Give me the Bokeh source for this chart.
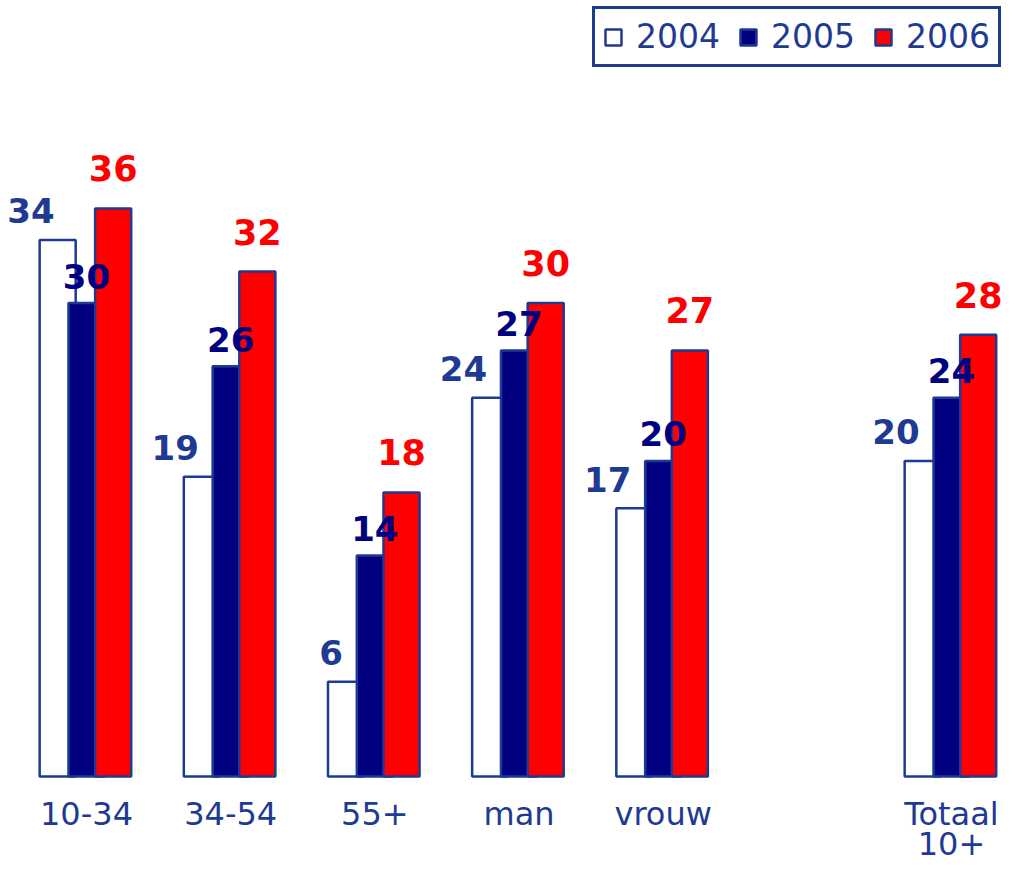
from bokeh.plotting import figure
from bokeh.models import ColumnDataSource, Legend, LegendItem, Range1d
from bokeh.core.properties import value
from bokeh.embed import file_html
from bokeh.resources import INLINE

# ---- data ----
categories = ["10-34", "34-54", "55+", "man", "vrouw", "Totaal\n10+"]
years = ["2004", "2005", "2006"]
v2004 = [34, 19, 6, 24, 17, 20]
v2005 = [30, 26, 14, 27, 20, 24]
v2006 = [36, 32, 18, 30, 27, 28]

# layout slots (gap before the total)
slots = [0, 1, 2, 3, 4, 6]

BLUE = "#1F3A93"
NAVY = "#000080"
RED = "#FF0000"
FONT = value("DejaVu Sans")

W, H = 1003, 867
PX = 144.17   # pixels per category slot
PY = 15.78    # pixels per unit
X0, Y0 = 86, 776

p = figure(width=W, height=H, output_backend="svg", toolbar_location=None,
           x_range=Range1d(-X0 / PX, (W - X0) / PX),
           y_range=Range1d(-(H - Y0) / PY, Y0 / PY),
           x_axis_location=None, y_axis_location=None, min_border=0)
p.grid.visible = False
p.outline_line_color = None
p.background_fill_color = "white"
p.border_fill_color = "white"

BW = 0.25
OFF = [-0.2, 0.0, 0.185]
line1 = [c.split("\n")[0] for c in categories]
line2 = [c.split("\n")[1] if "\n" in c else "" for c in categories]
src = ColumnDataSource(dict(
    x=slots,
    x04=[s + OFF[0] for s in slots],
    x05=[s + OFF[1] for s in slots],
    x06=[s + OFF[2] for s in slots],
    v04=v2004, v05=v2005, v06=v2006,
    t04=[str(v) for v in v2004],
    t05=[str(v) for v in v2005],
    t06=[str(v) for v in v2006],
    c1=line1, c2=line2,
))

r04 = p.vbar(x="x04", top="v04", bottom=0, width=BW, source=src,
             fill_color="white", line_color=BLUE, line_width=2.5)
r05 = p.vbar(x="x05", top="v05", bottom=0, width=BW, source=src,
             fill_color=NAVY, line_color=BLUE, line_width=2.5)
r06 = p.vbar(x="x06", top="v06", bottom=0, width=BW, source=src,
             fill_color=RED, line_color=BLUE, line_width=2.5)

# value labels
p.text(x="x04", y="v04", text="t04", source=src, text_align="right",
       text_baseline="alphabetic", x_offset=-3, y_offset=-29,
       text_font=FONT, text_font_style="bold", text_font_size="34px", text_color=BLUE)
p.text(x="x05", y="v05", text="t05", source=src, text_align="center",
       text_baseline="alphabetic", y_offset=-27,
       text_font=FONT, text_font_style="bold", text_font_size="34px", text_color=NAVY)
p.text(x="x06", y="v06", text="t06", source=src, text_align="center",
       text_baseline="alphabetic", y_offset=-40,
       text_font=FONT, text_font_style="bold", text_font_size="35px", text_color=RED)

# category labels
p.text(x="x", y=0, text="c1", source=src, text_align="center",
       text_baseline="alphabetic", y_offset=37,
       text_font=FONT, text_font_size="32px", text_color=BLUE)
p.text(x="x", y=0, text="c2", source=src, text_align="center",
       text_baseline="alphabetic", y_offset=67,
       text_font=FONT, text_font_size="32px", text_color=BLUE)

legend = Legend(items=[LegendItem(label=years[0], renderers=[r04]),
                       LegendItem(label=years[1], renderers=[r05]),
                       LegendItem(label=years[2], renderers=[r06])],
                orientation="horizontal", location=(592, H - 8 - 59), margin=0,
                padding=8, spacing=18, glyph_width=20, glyph_height=20,
                label_standoff=13, label_text_font="DejaVu Sans",
                label_text_font_size="33px", label_text_color=BLUE,
                border_line_color=BLUE, border_line_width=3, border_line_alpha=1.0,
                background_fill_color="white", background_fill_alpha=1.0)
p.add_layout(legend)

open("out.html", "w").write(file_html(p, INLINE))
